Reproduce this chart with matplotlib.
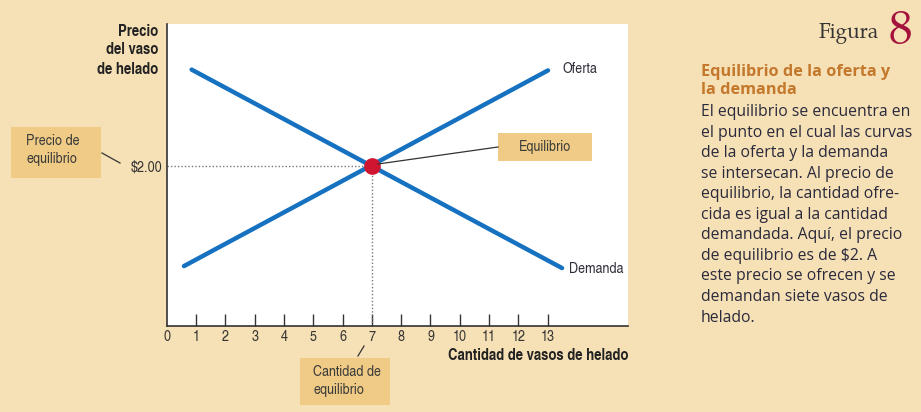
import os
import matplotlib
matplotlib.use("Agg")
import matplotlib.pyplot as plt
from matplotlib.patches import Rectangle
from matplotlib.lines import Line2D
from matplotlib.font_manager import FontProperties

# data
demand_q = [0.85, 13.49]
demand_p = [3.20, 0.72]
supply_q = [0.59, 13.01]
supply_p = [0.745, 3.19]
eq_q = 7
eq_p = 2.0
x_ticks = list(range(0, 14))
x_tick_labels = [str(t) for t in x_ticks]
price_label = "$2.00"

BG = "#F6E0B6"
BOX = "#EFCB85"
BLUE = "#1672C0"
RED = "#CF1530"
DARK = "#2E2E3A"

GYRE = "/usr/share/texmf/fonts/opentype/public/tex-gyre/"


def font(fname, size, fallback_weight='normal'):
    path = GYRE + fname
    if os.path.exists(path):
        return FontProperties(fname=path, size=size)
    return FontProperties(family="DejaVu Sans", size=size, weight=fallback_weight,
                          stretch='condensed')


cn = font("texgyreheroscn-regular.otf", 11)
cn_bold = font("texgyreheroscn-bold.otf", 11.5, 'bold')
serif = font("texgyrepagella-regular.otf", 15)
serif8 = font("texgyrepagella-regular.otf", 34)

W, H = 921, 412
fig = plt.figure(figsize=(W / 100, H / 100), dpi=100, facecolor=BG)


def fx(px):
    return px / W


def fy(py):
    return 1 - py / H


ax = fig.add_axes([fx(166.7), fy(325.7), fx(628) - fx(166.7), fy(24) - fy(325.7)])
ax.set_facecolor("white")
ax.set_xlim(0, 15.74)
ax.set_ylim(0, 3.77)

# curves
ax.plot(demand_q, demand_p, color=BLUE, lw=3.2, solid_capstyle='round', zorder=3)
ax.plot(supply_q, supply_p, color=BLUE, lw=3.2, solid_capstyle='round', zorder=3)

# dotted guides
ax.plot([0, eq_q], [eq_p, eq_p], linestyle=(0, (1, 1.5)), color="#777777", lw=1, zorder=2)
ax.plot([eq_q, eq_q], [0, eq_p], linestyle=(0, (1, 1.5)), color="#777777", lw=1, zorder=2)
ax.plot([eq_q], [eq_p], 'o', color=RED, markersize=11, zorder=5)

# axes
for s in ['top', 'right']:
    ax.spines[s].set_visible(False)
for s in ['left', 'bottom']:
    ax.spines[s].set_color("#333333")
    ax.spines[s].set_linewidth(1.2)

ax.set_xticks(x_ticks)
ax.set_xticklabels(x_tick_labels, fontproperties=cn, color="#333333")
ax.tick_params(axis='x', direction='in', length=8.5, width=1, color="#333333", pad=3)
ax.xaxis.get_major_ticks()[0].tick1line.set_visible(False)
ax.set_yticks([eq_p])
ax.set_yticklabels([price_label], fontproperties=cn, color="#333333")
ax.tick_params(axis='y', length=0, pad=3)

# curve labels
ax.text(supply_q[1] + 0.48, supply_p[1] + 0.02, "Oferta", fontproperties=cn, color=DARK,
        va='center', ha='left')
ax.text(demand_q[1] + 0.24, demand_p[1] - 0.01, "Demanda", fontproperties=cn, color=DARK,
        va='center', ha='left')

# axis titles
fig.text(fx(158), fy(32), "Precio", fontproperties=cn_bold, color="#222222",
         ha='right', va='center')
fig.text(fx(158), fy(50), "del vaso", fontproperties=cn_bold, color="#222222",
         ha='right', va='center')
fig.text(fx(158), fy(69), "de helado", fontproperties=cn_bold, color="#222222",
         ha='right', va='center')
fig.text(fx(628), fy(356), "Cantidad de vasos de helado", fontproperties=cn_bold,
         color="#222222", ha='right', va='center')


# callout boxes
def callout(x0, y0, x1, y1, lines, tx, ty, ha='left'):
    fig.patches.append(Rectangle((fx(x0), fy(y1)), fx(x1) - fx(x0), fy(y0) - fy(y1),
                                 transform=fig.transFigure, facecolor=BOX, edgecolor='none',
                                 zorder=1))
    fig.text(fx(tx), fy(ty), lines, fontproperties=cn, color="#3A3A3A", ha=ha, va='center',
             linespacing=1.35)


callout(11, 127, 101, 178, "Precio de\nequilibrio", 26, 150)
callout(498, 133, 592, 161, "Equilibrio", 545, 147, ha='center')
callout(300, 358, 390, 405, "Cantidad de\nequilibrio", 313, 381)

fig.lines.append(Line2D([fx(102), fx(120)], [fy(153), fy(163)], transform=fig.transFigure,
                        color="#333333", lw=0.9))
fig.lines.append(Line2D([fx(378), fx(498)], [fy(164), fy(147)], transform=fig.transFigure,
                        color="#333333", lw=0.9))
fig.lines.append(Line2D([fx(364), fx(358)], [fy(346), fy(356)], transform=fig.transFigure,
                        color="#333333", lw=0.9))

# right-hand caption
fig.text(fx(879), fy(38), "Figura", fontproperties=serif, color="#333333",
         ha='right', va='baseline')
fig.text(fx(889), fy(43), "8", fontproperties=serif8, color="#A5133D",
         ha='left', va='baseline')
fig.text(fx(701), fy(81), "Equilibrio de la oferta y\nla demanda", fontsize=11.7,
         family=["Open Sans", "DejaVu Sans"], fontweight='bold', color="#C4782C",
         ha='left', va='center', linespacing=1.15)
body = ("El equilibrio se encuentra en\nel punto en el cual las curvas\n"
        "de la oferta y la demanda\nse intersecan. Al precio de\n"
        "equilibrio, la cantidad ofre-\ncida es igual a la cantidad\n"
        "demandada. Aquí, el precio\nde equilibrio es de $2. A\n"
        "este precio se ofrecen y se\ndemandan siete vasos de\nhelado.")
fig.text(fx(701), fy(104), body, fontsize=11.3, family=["Open Sans", "DejaVu Sans"],
         color="#2A2A3C", ha='left', va='top', linespacing=1.38)

fig.savefig("out.png", dpi=100, facecolor=BG)
